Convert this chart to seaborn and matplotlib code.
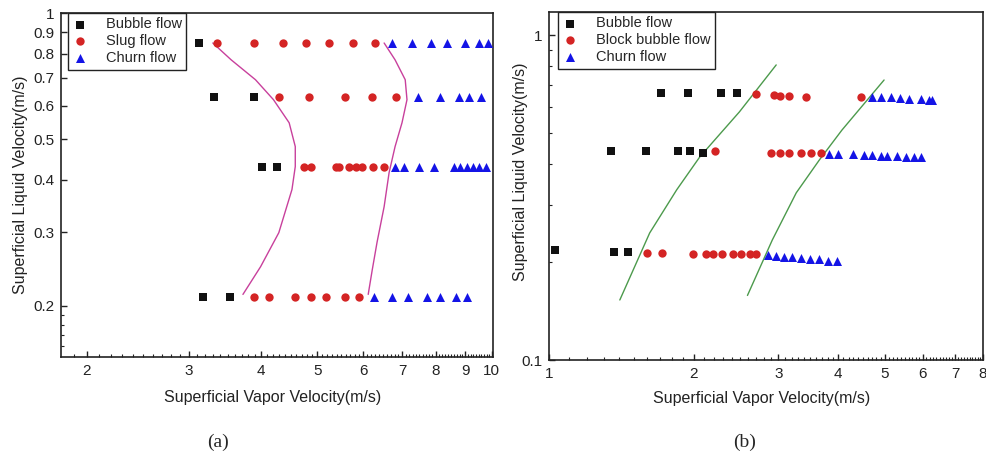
import numpy as np
import pandas as pd
import matplotlib
matplotlib.use("Agg")
import matplotlib.pyplot as plt
import seaborn as sns
from matplotlib.ticker import FixedLocator, FixedFormatter, NullFormatter

sns.set_theme(style="ticks")
plt.rcParams['font.family'] = ['Liberation Sans', 'DejaVu Sans']

# ---------------- Panel (a) data ----------------
A_BUBBLE_X = [3.12, 3.32, 3.89, 4.02, 4.26, 3.17, 3.54]
A_BUBBLE_Y = [0.85, 0.63, 0.63, 0.43, 0.43, 0.21, 0.21]
A_SLUG_X = [3.36, 3.88, 4.36, 4.78, 5.23, 5.75, 6.30,
            4.30, 4.83, 5.57, 6.22, 6.84,
            4.74, 4.87, 5.38, 5.44, 5.68, 5.82, 5.98, 6.25, 6.52,
            3.89, 4.13, 4.57, 4.87, 5.17, 5.57, 5.89]
A_SLUG_Y = [0.85] * 7 + [0.63] * 5 + [0.43] * 9 + [0.21] * 7
A_CHURN_X = [6.73, 7.29, 7.85, 8.36, 8.98, 9.49, 9.87,
             7.46, 8.13, 8.77, 9.12, 9.60,
             6.81, 7.06, 7.49, 7.94, 8.60, 8.80, 9.05, 9.30, 9.52, 9.79,
             6.27, 6.73, 7.17, 7.73, 8.13, 8.66, 9.05]
A_CHURN_Y = [0.85] * 7 + [0.63] * 5 + [0.43] * 10 + [0.21] * 7
A_LINE1_X = [3.30, 3.55, 3.91, 4.20, 4.47, 4.58, 4.58, 4.52, 4.29, 3.99, 3.72]
A_LINE1_Y = [0.848, 0.773, 0.693, 0.621, 0.547, 0.480, 0.430, 0.379, 0.299, 0.248, 0.213]
A_LINE2_X = [6.52, 6.81, 7.09, 7.14, 7.00, 6.81, 6.65, 6.52, 6.34, 6.22, 6.12]
A_LINE2_Y = [0.848, 0.773, 0.693, 0.621, 0.547, 0.480, 0.416, 0.345, 0.284, 0.244, 0.213]
A_LABELS = ["Bubble flow", "Slug flow", "Churn flow"]
A_XTICKS = [2, 3, 4, 5, 6, 7, 8, 9, 10]
A_XTICKLABELS = ["2", "3", "4", "5", "6", "7", "8", "9", "10"]
A_YTICKS = [0.2, 0.3, 0.4, 0.5, 0.6, 0.7, 0.8, 0.9, 1.0]
A_YTICKLABELS = ["0.2", "0.3", "0.4", "0.5", "0.6", "0.7", "0.8", "0.9", "1"]

# ---------------- Panel (b) data ----------------
B_BUBBLE_X = [1.708, 1.943, 2.285, 2.466,
              1.345, 1.589, 1.852, 1.962, 2.087,
              1.029, 1.364, 1.458]
B_BUBBLE_Y = [0.663, 0.663, 0.663, 0.663,
              0.440, 0.440, 0.440, 0.440, 0.433,
              0.218, 0.215, 0.215]
B_BLOCK_X = [2.69, 2.94, 3.02, 3.16, 3.43, 4.46,
             2.21, 2.90, 3.03, 3.16, 3.35, 3.51, 3.69,
             1.597, 1.716, 1.99, 2.117, 2.189, 2.296, 2.409, 2.514, 2.625, 2.70]
B_BLOCK_Y = [0.658, 0.654, 0.649, 0.649, 0.645, 0.645,
             0.440, 0.433, 0.433, 0.433, 0.433, 0.433, 0.433,
             0.213, 0.213, 0.212, 0.212, 0.212, 0.212, 0.212, 0.212, 0.212, 0.212]
B_CHURN_X = [4.70, 4.91, 5.15, 5.37, 5.61, 5.94, 6.17, 6.26,
             3.83, 4.00, 4.29, 4.52, 4.70, 4.91, 5.05, 5.30, 5.53, 5.74, 5.94,
             2.85, 2.97, 3.09, 3.21, 3.35, 3.50, 3.65, 3.81, 3.98]
B_CHURN_Y = [0.645, 0.645, 0.643, 0.640, 0.636, 0.636, 0.631, 0.631,
             0.430, 0.430, 0.429, 0.427, 0.426, 0.425, 0.424, 0.423, 0.422, 0.421, 0.421,
             0.210, 0.209, 0.208, 0.207, 0.206, 0.205, 0.204, 0.202, 0.201]
B_LINE1_X = [1.404, 1.620, 1.844, 2.058, 2.49, 2.97]
B_LINE1_Y = [0.153, 0.246, 0.334, 0.421, 0.580, 0.809]
B_LINE2_X = [2.588, 2.915, 3.27, 3.65, 4.07, 4.98]
B_LINE2_Y = [0.158, 0.234, 0.327, 0.412, 0.510, 0.727]
B_LABELS = ["Bubble flow", "Block bubble flow", "Churn flow"]
B_XTICKS = [1, 2, 3, 4, 5, 6, 7, 8]
B_XTICKLABELS = ["1", "2", "3", "4", "5", "6", "7", "8"]
B_YTICKS = [0.1, 1.0]
B_YTICKLABELS = ["0.1", "1"]

XLABEL = "Superficial Vapor Velocity(m/s)"
YLABEL = "Superficial Liquid Velocity(m/s)"
PANEL_TAGS = ["(a)", "(b)"]

COLORS = ["#111111", "#d42424", "#1414e6"]
MARKERS = ["s", "o", "^"]

fig = plt.figure(figsize=(9.87, 4.66), dpi=100)
axA = fig.add_axes([61 / 987, 1 - 357 / 466, 432 / 987, 344 / 466])
axB = fig.add_axes([549 / 987, 1 - 360 / 466, 434 / 987, 348 / 466])


def draw_points(ax, xs_list, ys_list, labels):
    for xs, ys, lab, col, mk in zip(xs_list, ys_list, labels, COLORS, MARKERS):
        df = pd.DataFrame({"x": xs, "y": ys})
        sns.scatterplot(data=df, x="x", y="y", ax=ax, color=col, marker=mk,
                        s=36 if mk != "^" else 42, linewidth=0, label=lab, zorder=3)


def draw_line(ax, xs, ys, color):
    df = pd.DataFrame({"x": xs, "y": ys})
    sns.lineplot(data=df, x="x", y="y", ax=ax, sort=False, estimator=None,
                 color=color, linewidth=1.0, zorder=2, legend=False)


draw_points(axA, [A_BUBBLE_X, A_SLUG_X, A_CHURN_X], [A_BUBBLE_Y, A_SLUG_Y, A_CHURN_Y], A_LABELS)
draw_line(axA, A_LINE1_X, A_LINE1_Y, "#c8409c")
draw_line(axA, A_LINE2_X, A_LINE2_Y, "#c8409c")

draw_points(axB, [B_BUBBLE_X, B_BLOCK_X, B_CHURN_X], [B_BUBBLE_Y, B_BLOCK_Y, B_CHURN_Y], B_LABELS)
draw_line(axB, B_LINE1_X, B_LINE1_Y, "#4c9a4c")
draw_line(axB, B_LINE2_X, B_LINE2_Y, "#4c9a4c")

for ax in (axA, axB):
    ax.set_xscale("log")
    ax.set_yscale("log")
    for sp in ax.spines.values():
        sp.set_visible(True)
        sp.set_linewidth(1.2)
        sp.set_color("#222222")
    ax.tick_params(which="both", direction="in", top=False, right=False,
                   labelsize=11, colors="#222222", pad=5)
    ax.tick_params(which="major", length=4.5, width=1.0)
    ax.tick_params(which="minor", length=2.5, width=0.8)

# Panel (a) axes
axA.set_xlim(1.805, 10.05)
axA.set_ylim(0.151, 1.0)
axA.xaxis.set_major_locator(FixedLocator(A_XTICKS))
axA.xaxis.set_major_formatter(FixedFormatter(A_XTICKLABELS))
axA.xaxis.set_minor_locator(FixedLocator([v / 10 for v in range(18, 101) if v % 10 != 0]))
axA.xaxis.set_minor_formatter(NullFormatter())
axA.yaxis.set_major_locator(FixedLocator(A_YTICKS))
axA.yaxis.set_major_formatter(FixedFormatter(A_YTICKLABELS))
axA.yaxis.set_minor_locator(FixedLocator([0.16, 0.17, 0.18, 0.19]))
axA.yaxis.set_minor_formatter(NullFormatter())

# Panel (b) axes
axB.set_xlim(1.0, 8.0)
axB.set_ylim(0.1, 1.177)
axB.xaxis.set_major_locator(FixedLocator(B_XTICKS))
axB.xaxis.set_major_formatter(FixedFormatter(B_XTICKLABELS))
axB.xaxis.set_minor_locator(FixedLocator([v / 10 for v in range(10, 81) if v % 10 != 0]))
axB.xaxis.set_minor_formatter(NullFormatter())
axB.yaxis.set_major_locator(FixedLocator(B_YTICKS))
axB.yaxis.set_major_formatter(FixedFormatter(B_YTICKLABELS))
axB.yaxis.set_minor_locator(FixedLocator([0.2, 0.3, 0.4, 0.5, 0.6, 0.7, 0.8, 0.9]))
axB.yaxis.set_minor_formatter(NullFormatter())

for ax in (axA, axB):
    ax.set_xlabel(XLABEL, fontsize=11.5, color="#222222")
    ax.set_ylabel(YLABEL, fontsize=11.5, color="#222222")

axA.xaxis.set_label_coords(0.49, -0.097)
axA.yaxis.set_label_coords(-33 / 432, 0.5)
axB.xaxis.set_label_coords(0.49, -0.089)
axB.yaxis.set_label_coords(-21 / 434, 0.54)

for ax, anchor in ((axA, (7 / 432, 1.0)), (axB, (9 / 434, 1.0))):
    leg = ax.legend(loc="upper left", bbox_to_anchor=anchor, fontsize=10.5,
                    frameon=True, fancybox=False, borderaxespad=0,
                    handlelength=1.0, handletextpad=1.3, borderpad=0.3,
                    labelspacing=0.2)
    leg.get_frame().set_edgecolor("#222222")
    leg.get_frame().set_linewidth(1.0)
    leg.get_frame().set_alpha(1.0)

fig.text(218 / 987, 1 - 442 / 466, PANEL_TAGS[0], ha="center", va="center",
         fontsize=14, family=["Liberation Serif", "DejaVu Serif"])
fig.text(745 / 987, 1 - 442 / 466, PANEL_TAGS[1], ha="center", va="center",
         fontsize=14, family=["Liberation Serif", "DejaVu Serif"])

fig.savefig("out.png", dpi=100)
